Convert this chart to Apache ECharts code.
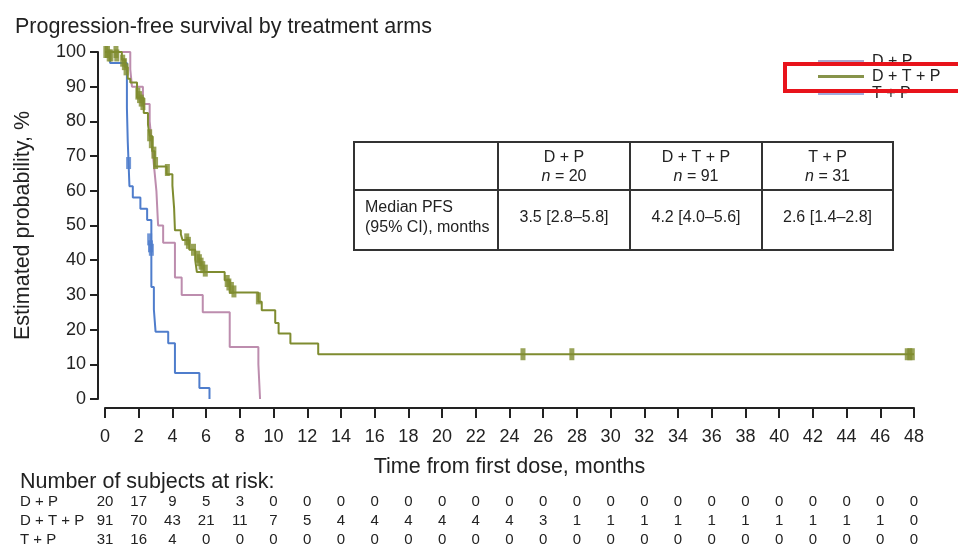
<!DOCTYPE html>
<html>
<head>
<meta charset="utf-8">
<script src="https://cdn.jsdelivr.net/npm/echarts@6/dist/echarts.min.js"></script>
<style>
html, body { margin: 0; padding: 0; background: #fff; }
#main { width: 958px; height: 546px; }
</style>
</head>
<body>
<div id="main"></div>
<script>
// treatment arms
var arms = ['D + P', 'D + T + P', 'T + P'];
var armColors = ['#bd8dae', '#7f8c30', '#4f7dcc'];
var legendColors = ['#aba6cc', '#87934a', '#a0acdd'];

// Kaplan-Meier steps [month, %]
var dpCurve = [[0, 100], [1.5, 95], [1.6, 90], [2.25, 85], [2.65, 80], [2.75, 75], [2.85, 70], [2.95, 65],
    [3.05, 60], [3.15, 50], [3.45, 45], [4.15, 35], [4.55, 30], [5.8, 25], [7.4, 15], [9.1, 10], [9.2, 0]];
var dtpCurve = [[0, 100], [1.0, 97.8], [1.2, 95.6], [1.35, 92.3], [1.5, 91.2], [1.9, 86.8], [2.3, 82.4],
    [2.55, 79.1], [2.65, 75.8], [2.8, 71.4], [2.95, 67.0], [3.65, 64.8], [4.0, 61.5], [4.1, 55.0],
    [4.15, 48.6], [4.5, 47.5], [4.6, 45.8], [5.0, 43.0], [5.35, 40.2], [5.45, 36.6], [7.1, 34.2],
    [7.4, 30.7], [9.1, 28.0], [9.3, 25.6], [10.1, 21.9], [10.3, 18.9], [11.0, 16.0], [12.65, 12.9], [48, 12.9]];
var tpCurve = [[0, 100], [0.3, 96.8], [1.3, 83.9], [1.35, 74.2], [1.45, 61.3], [1.65, 58.1], [2.1, 54.8],
    [2.5, 51.6], [2.75, 32.3], [2.9, 25.8], [3.0, 19.4], [3.75, 16.1], [4.15, 7.5], [5.6, 3.2], [6.2, 0]];

// censored observations
var dtpCensor = [[0.05, 100], [0.15, 100], [0.25, 99], [0.35, 99], [0.65, 100], [0.7, 99], [1.05, 97.5],
    [1.15, 96.5], [1.25, 95], [1.95, 88], [2.05, 87], [2.15, 86], [2.25, 85], [2.65, 76], [2.75, 74],
    [2.9, 71], [3.0, 68], [3.7, 66], [4.85, 46], [4.95, 45], [5.25, 43], [5.5, 41], [5.6, 40], [5.7, 39],
    [5.8, 38], [5.95, 37], [7.25, 34], [7.35, 33], [7.5, 32], [7.65, 31], [9.1, 29], [24.8, 12.9],
    [27.7, 12.9], [47.6, 12.9], [47.75, 12.9], [47.9, 12.9]];
var tpCensor = [[1.4, 68], [2.65, 46], [2.7, 44], [2.75, 43]];

// number at risk, every 2 months from 0 to 48
var riskTimes = [0, 2, 4, 6, 8, 10, 12, 14, 16, 18, 20, 22, 24, 26, 28, 30, 32, 34, 36, 38, 40, 42, 44, 46, 48];
var riskDP = [20, 17, 9, 5, 3, 0, 0, 0, 0, 0, 0, 0, 0, 0, 0, 0, 0, 0, 0, 0, 0, 0, 0, 0, 0];
var riskDTP = [91, 70, 43, 21, 11, 7, 5, 4, 4, 4, 4, 4, 4, 3, 1, 1, 1, 1, 1, 1, 1, 1, 1, 1, 0];
var riskTP = [31, 16, 4, 0, 0, 0, 0, 0, 0, 0, 0, 0, 0, 0, 0, 0, 0, 0, 0, 0, 0, 0, 0, 0, 0];

// median PFS table
var armN = [20, 91, 31];
var medianPfs = ['3.5 [2.8\u20135.8]', '4.2 [4.0\u20135.6]', '2.6 [1.4\u20132.8]'];

var font = 'Liberation Sans, Arial, sans-serif';
var chart = echarts.init(document.getElementById('main'));

function kmLine(name, data, color) {
    return {
        name: name,
        type: 'line',
        step: 'end',
        data: data,
        symbol: 'none',
        lineStyle: {color: color, width: 2},
        itemStyle: {color: color},
        z: 3
    };
}

function censor(name, data, color) {
    return {
        name: name,
        type: 'scatter',
        data: data,
        symbol: 'rect',
        symbolSize: [5, 12],
        itemStyle: {color: color},
        silent: true,
        z: 4
    };
}

function legendItem(i, top, bg) {
    return {
        top: top,
        left: 814,
        orient: 'vertical',
        icon: 'rect',
        itemWidth: 46,
        itemHeight: 3,
        itemGap: 0,
        padding: bg ? [0, 4, 0, 4] : [2, 4, 2, 4],
        backgroundColor: bg,
        z: bg ? 6 : 5,
        data: [{name: arms[i], itemStyle: {color: legendColors[i]}}],
        textStyle: {fontFamily: font, fontSize: 16, lineHeight: 17, color: '#222', padding: [0, 0, 0, 3]}
    };
}

var option = {
    animation: false,
    backgroundColor: '#fff',
    title: {
        text: 'Progression-free survival by treatment arms',
        left: 10,
        top: 11,
        textStyle: {fontFamily: font, fontSize: 21.5, fontWeight: 'normal', color: '#222'}
    },
    legend: [legendItem(0, 51), legendItem(2, 83), legendItem(1, 68, '#fff')],
    grid: {left: 105, right: 44, top: 52, bottom: 147, containLabel: false, outerBoundsMode: 'none'},
    xAxis: {
        type: 'value',
        min: 0,
        max: 48,
        interval: 2,
        offset: 9,
        name: 'Time from first dose, months',
        nameLocation: 'middle',
        nameGap: 48,
        nameTextStyle: {fontFamily: font, fontSize: 21.5, color: '#222'},
        axisLine: {show: true, onZero: false, lineStyle: {color: '#222', width: 2}},
        axisTick: {show: true, length: 10, lineStyle: {color: '#222', width: 2}},
        axisLabel: {fontFamily: font, fontSize: 18, color: '#222', margin: 20, interval: 0, hideOverlap: false},
        splitLine: {show: false}
    },
    yAxis: {
        type: 'value',
        min: 0,
        max: 100,
        interval: 10,
        offset: 7,
        name: 'Estimated probability, %',
        nameLocation: 'middle',
        nameGap: 64,
        nameRotate: 90,
        nameTextStyle: {fontFamily: font, fontSize: 21.5, color: '#222'},
        axisLine: {show: true, onZero: false, lineStyle: {color: '#222', width: 2}},
        axisTick: {show: true, length: 8, lineStyle: {color: '#222', width: 2}},
        axisLabel: {fontFamily: font, fontSize: 18, color: '#222', margin: 12, hideOverlap: false},
        splitLine: {show: false}
    },
    series: [
        kmLine(arms[0], dpCurve, armColors[0]),
        kmLine(arms[2], tpCurve, armColors[2]),
        kmLine(arms[1], dtpCurve, armColors[1]),
        censor('tp censored', tpCensor, armColors[2]),
        censor('dtp censored', dtpCensor, armColors[1])
    ]
};

chart.setOption(option);

// median PFS table and at-risk table as graphics
var g = [];
var tx = [354, 498, 630, 762, 893];
var ty = [142, 190, 250];
var tf = '16px ' + font;
g.push({type: 'rect', shape: {x: tx[0], y: ty[0], width: tx[4] - tx[0], height: ty[2] - ty[0]},
    style: {fill: '#fff', stroke: '#333', lineWidth: 2}, z: 10});
g.push({type: 'line', shape: {x1: tx[0], y1: ty[1], x2: tx[4], y2: ty[1]}, style: {stroke: '#333', lineWidth: 2}, z: 11});
for (var c = 1; c < 4; c++) {
    g.push({type: 'line', shape: {x1: tx[c], y1: ty[0], x2: tx[c], y2: ty[2]}, style: {stroke: '#333', lineWidth: 2}, z: 11});
    var cx = (tx[c] + tx[c + 1]) / 2;
    g.push({type: 'text', x: cx, y: 158, z: 12,
        style: {text: arms[c - 1], fill: '#222', font: tf, align: 'center', verticalAlign: 'middle'}});
    g.push({type: 'text', x: cx, y: 177, z: 12,
        style: {text: '{i|n} = ' + armN[c - 1], fill: '#222', font: tf, align: 'center', verticalAlign: 'middle',
            rich: {i: {fontStyle: 'italic', fontFamily: font, fontSize: 16, fill: '#222'}}}});
    g.push({type: 'text', x: cx, y: 218, z: 12,
        style: {text: medianPfs[c - 1], fill: '#222', font: tf, align: 'center', verticalAlign: 'middle'}});
}
g.push({type: 'text', x: 365, y: 208, z: 12,
    style: {text: 'Median PFS', fill: '#222', font: tf, verticalAlign: 'middle'}});
g.push({type: 'text', x: 365, y: 228, z: 12,
    style: {text: '(95% CI), months', fill: '#222', font: tf, verticalAlign: 'middle'}});

g.push({type: 'text', x: 20, y: 482,
    style: {text: 'Number of subjects at risk:', fill: '#222', font: '21.5px ' + font, verticalAlign: 'middle'}});
var riskRows = [riskDP, riskDTP, riskTP];
var rowY = [502, 521, 540];
for (var r = 0; r < 3; r++) {
    g.push({type: 'text', x: 20, y: rowY[r],
        style: {text: arms[r], fill: '#222', font: '15px ' + font, verticalAlign: 'middle'}});
    for (var k = 0; k < riskTimes.length; k++) {
        var px = chart.convertToPixel({xAxisIndex: 0}, riskTimes[k]);
        g.push({type: 'text', x: px, y: rowY[r],
            style: {text: String(riskRows[r][k]), fill: '#222', font: '15px ' + font, align: 'center', verticalAlign: 'middle'}});
    }
}

// highlight box around the D + T + P legend entry
g.push({type: 'rect', shape: {x: 785, y: 64, width: 185, height: 27},
    style: {fill: null, stroke: '#e8131b', lineWidth: 4}, z: 20});

chart.setOption({graphic: g});
</script>
</body>
</html>
